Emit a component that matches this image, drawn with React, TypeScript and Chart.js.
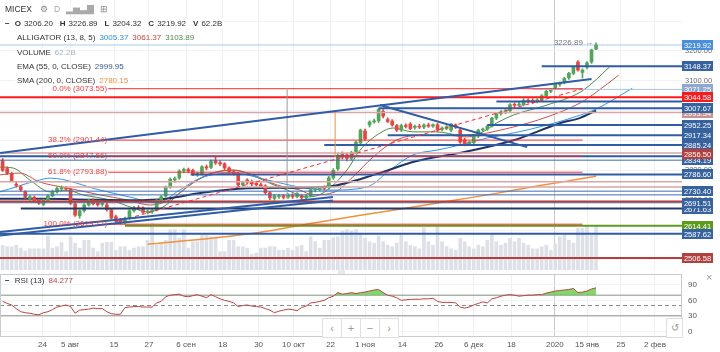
import React, { useEffect, useRef } from "react";
import { Chart, registerables } from "chart.js";

Chart.register(...registerables);

const FONT = "'Liberation Sans', Arial, sans-serif";

// ---------------- data ----------------
// bar index of the first candle (bars are trading days, bar 0 = 24 июля 2019)
const FIRST_BAR = -9;

// [open, high, low, close]
const candles: number[][] = [
  [2834, 2840, 2796, 2800],
  [2806, 2812, 2786, 2790],
  [2790, 2794, 2762, 2766],
  [2752, 2760, 2744, 2750],
  [2745, 2750, 2730, 2735],
  [2728, 2732, 2706, 2710],
  [2705, 2716, 2700, 2712],
  [2710, 2714, 2692, 2696],
  [2700, 2704, 2686, 2690],
  [2686, 2704, 2682, 2700],
  [2700, 2718, 2696, 2715],
  [2715, 2734, 2712, 2730],
  [2728, 2745, 2724, 2740],
  [2738, 2748, 2734, 2742],
  [2742, 2746, 2732, 2738],
  [2736, 2740, 2685, 2690],
  [2688, 2692, 2646, 2650],
  [2648, 2668, 2640, 2665],
  [2665, 2688, 2660, 2684],
  [2684, 2704, 2680, 2700],
  [2700, 2706, 2684, 2688],
  [2690, 2696, 2680, 2685],
  [2686, 2692, 2680, 2687],
  [2685, 2690, 2664, 2668],
  [2668, 2672, 2636, 2640],
  [2645, 2650, 2626, 2630],
  [2635, 2640, 2620, 2624],
  [2625, 2644, 2621, 2640],
  [2640, 2668, 2636, 2665],
  [2665, 2680, 2660, 2675],
  [2675, 2682, 2668, 2672],
  [2674, 2678, 2656, 2660],
  [2660, 2668, 2654, 2662],
  [2662, 2670, 2656, 2665],
  [2668, 2704, 2664, 2700],
  [2700, 2716, 2694, 2712],
  [2714, 2748, 2710, 2744],
  [2744, 2775, 2740, 2770],
  [2768, 2778, 2760, 2772],
  [2775, 2802, 2770, 2798],
  [2798, 2808, 2792, 2803],
  [2803, 2808, 2792, 2798],
  [2800, 2804, 2782, 2787],
  [2785, 2794, 2780, 2790],
  [2787, 2816, 2784, 2812],
  [2812, 2818, 2802, 2808],
  [2810, 2835, 2806, 2830],
  [2833, 2846, 2820, 2825],
  [2826, 2832, 2816, 2822],
  [2822, 2826, 2802, 2808],
  [2808, 2812, 2790, 2795],
  [2795, 2800, 2784, 2790],
  [2790, 2794, 2746, 2752],
  [2752, 2764, 2748, 2758],
  [2768, 2772, 2754, 2760],
  [2760, 2768, 2748, 2755],
  [2757, 2762, 2748, 2752],
  [2752, 2758, 2742, 2748],
  [2748, 2752, 2720, 2725],
  [2725, 2730, 2702, 2708],
  [2706, 2720, 2700, 2715],
  [2712, 2720, 2706, 2714],
  [2715, 2720, 2704, 2710],
  [2710, 2722, 2706, 2718],
  [2716, 2722, 2706, 2712],
  [2712, 2726, 2708, 2722],
  [2715, 2720, 2702, 2708],
  [2708, 2720, 2704, 2715],
  [2715, 2740, 2712, 2735],
  [2735, 2742, 2728, 2738],
  [2738, 2746, 2732, 2742],
  [2742, 2748, 2734, 2740],
  [2742, 2780, 2738, 2775],
  [2775, 2806, 2770, 2800],
  [2805, 2856, 2800, 2850],
  [2855, 2862, 2838, 2845],
  [2852, 2858, 2832, 2840],
  [2840, 2864, 2834, 2860],
  [2860, 2898, 2855, 2895],
  [2892, 2938, 2886, 2935],
  [2932, 2938, 2900, 2905],
  [2952, 2966, 2945, 2962],
  [2962, 2972, 2958, 2966],
  [2966, 3007.67, 2960, 3004],
  [2998, 3004, 2976, 2982],
  [2970, 2976, 2960, 2964],
  [2965, 2970, 2948, 2952],
  [2950, 2954, 2930, 2935],
  [2935, 2955, 2930, 2950],
  [2950, 2956, 2942, 2947],
  [2955, 2960, 2936, 2940],
  [2944, 2952, 2938, 2948],
  [2948, 2954, 2940, 2945],
  [2945, 2956, 2940, 2952],
  [2952, 2958, 2944, 2948],
  [2948, 2956, 2944, 2953],
  [2953, 2958, 2930, 2935],
  [2938, 2946, 2932, 2942],
  [2940, 2950, 2936, 2946],
  [2935, 2958, 2930, 2955],
  [2952, 2956, 2940, 2945],
  [2935, 2940, 2890, 2895],
  [2902, 2908, 2882, 2888],
  [2890, 2898, 2885, 2895],
  [2893, 2918, 2889, 2915],
  [2915, 2938, 2910, 2935],
  [2935, 2942, 2930, 2938],
  [2938, 2952, 2934, 2948],
  [2948, 2978, 2945, 2975],
  [2975, 2994, 2970, 2990],
  [2990, 3000, 2985, 2995],
  [2995, 3004, 2990, 3000],
  [3000, 3024, 2996, 3020],
  [3020, 3026, 3012, 3018],
  [3018, 3028, 3014, 3022],
  [3020, 3040, 3016, 3035],
  [3035, 3040, 3026, 3030],
  [3035, 3040, 3024, 3028],
  [3030, 3040, 3026, 3036],
  [3035, 3054, 3030, 3050],
  [3050, 3068, 3046, 3065],
  [3065, 3073.55, 3060, 3071],
  [3075, 3092, 3070, 3088],
  [3088, 3096, 3082, 3092],
  [3095, 3112, 3090, 3108],
  [3110, 3128, 3105, 3125],
  [3125, 3148.37, 3120, 3145],
  [3163, 3168, 3132, 3136],
  [3128, 3140, 3109, 3136],
  [3146, 3164, 3140, 3160],
  [3163, 3206, 3158, 3203],
  [3206.2, 3226.89, 3204.32, 3219.92],
];

// volume, billions
const volumes: number[] = [
  35, 33, 33, 35, 31, 27, 30, 30, 30, 30,
  48, 31, 33, 39, 26, 47, 38, 31, 42, 42,
  31, 26, 38, 39, 39, 28, 33, 33, 28, 31,
  33, 33, 42, 66, 35, 38, 42, 57, 57, 45,
  57, 31, 40, 40, 49, 49, 47, 47, 26, 26,
  42, 42, 33, 33, 31, 22, 24, 31, 31, 33,
  33, 28, 28, 31, 28, 33, 35, 26, 47, 40,
  31, 42, 42, 46, 47, 55, 57, 55, 57, 52,
  45, 40, 38, 48, 40, 35, 33, 38, 50, 40,
  35, 33, 30, 60, 40, 35, 62, 40, 33, 30,
  28, 45, 40, 33, 30, 35, 33, 42, 50, 40,
  35, 38, 45, 40, 45, 38, 35, 30, 30, 33,
  35, 28, 37, 47, 49, 42, 38, 59, 59, 62,
  49, 62.2,
];

// RSI (13)
const rsiValues: number[] = [
  58, 54, 51, 44, 38, 36, 35, 33, 32, 36,
  38, 42, 47, 49, 51, 48, 35, 41, 42, 43,
  45, 44, 44, 38, 34, 33, 33, 46, 47, 48,
  48, 47, 47, 47, 55, 58, 67, 70, 71, 72,
  68, 67, 69, 71, 68, 65, 71, 67, 63, 60,
  58, 55, 48, 50, 51, 49, 48, 47, 44, 41,
  36, 39, 41, 43, 42, 40, 46, 49, 55, 56,
  58, 60, 65, 68, 75, 72, 73, 75, 73, 75,
  76, 78, 80, 81, 75, 70, 68, 65, 60, 61,
  62, 62, 62, 63, 63, 64, 58, 56, 56, 56,
  55, 47, 45, 47, 51, 54, 57, 55, 63, 65,
  68, 70, 71, 70, 68, 69, 70, 70, 71, 71,
  74, 76, 78, 79, 80, 81, 83, 75, 76, 78,
  82, 84.277,
];

// date axis (bar positions of the labels)
const dateTickBars = [-0.2, 5.9, 15.6, 23.3, 31.5, 39.6, 47.5, 55.2, 63.4, 71, 79.2, 87.3, 95, 103.3, 112.9, 120, 127.5, 135];
const dateTickLabels = ["24", "5 авг", "15", "27", "6 сен", "18", "30", "10 окт", "22", "1 ноя", "14", "26", "6 дек", "18", "2020", "15 янв", "25", "2 фев"];

const priceGrid = [2500, 2600, 2700, 2800, 2900, 3000, 3100, 3200, 3300];
const priceAxisLabels = [2500, 2600, 2700, 2800, 2900, 3000, 3100, 3200];
const rsiGrid = [0, 30, 60, 90];

// Alligator (13, 8, 5)
const jawBars = [-9.6, -0.8, 1.5, 12.5, 19.8, 25, 30.1, 34.6, 41.9, 49.4, 56.6, 63.3, 71.4, 76.5, 81.6, 86.9, 92, 97.9, 103.7, 111.2, 118.5, 122, 130];
const jawValues = [2728, 2768, 2774, 2734, 2708, 2691, 2734, 2774, 2791, 2768, 2744, 2734, 2744, 2801, 2852, 2868, 2885, 2908, 2925, 2952, 2985, 3005.37, 3075];
const teethBars = [-9.6, -5.2, -0.8, 5.2, 12.5, 18.5, 23.5, 27.9, 31.7, 36.1, 41.9, 46.3, 51.6, 56.6, 59.5, 64.4, 68.3, 72.8, 78, 83.1, 89.1, 93.5, 97.9, 103.7, 111.2, 118.5, 122, 127];
const teethValues = [2785, 2791, 2761, 2741, 2718, 2701, 2684, 2701, 2744, 2785, 2801, 2785, 2751, 2734, 2718, 2728, 2778, 2845, 2902, 2918, 2918, 2912, 2925, 2945, 2979, 3026, 3061.37, 3119];
const lipsBars = [-9.6, -6.7, -3, 1.5, 5.2, 8.7, 14.7, 19.8, 22.9, 26.4, 30.1, 33, 37.4, 41.9, 44.9, 49.4, 53.8, 58.2, 61.7, 67, 69.9, 74.3, 77.2, 81.6, 86.9, 92, 96.4, 100.1, 103.7, 111.2, 118.5, 122, 125];
const lipsValues = [2811, 2808, 2768, 2728, 2734, 2718, 2701, 2674, 2661, 2677, 2724, 2758, 2791, 2801, 2791, 2761, 2734, 2711, 2724, 2801, 2868, 2925, 2942, 2929, 2929, 2918, 2925, 2959, 2985, 3019, 3062, 3103.89, 3147];

// EMA (55) and SMA (200)
const emaBars = [-9.6, 0, 10, 20, 27, 35, 45, 55, 63, 74, 82, 93, 104, 114, 118.5, 122];
const emaValues = [2705, 2705, 2702, 2700, 2705, 2725, 2740, 2742, 2746, 2790, 2830, 2862, 2902, 2958, 2976, 2999.95];
const smaBars = [23, 38, 50, 60, 70, 80, 90, 100, 110, 118, 122];
const smaValues = [2553, 2574, 2598, 2625, 2650, 2673, 2698, 2723, 2750, 2770, 2780.15];

// Fibonacci retracement
const fibLevels = [0, 38.2, 50, 61.8, 100];
const fibPrices = [3073.55, 2901.44, 2847.66, 2793.88, 2619.77];
const fibFromBar = 14.3;
const fibToBar = 119;

// horizontal lines: [price, first bar (null = from the left edge), kind]
const hLines: [number, number | null, string][] = [
  [3219.92, null, "last"],
  [3148.37, 110, "blue"],
  [3071.25, 108, "light"],
  [3044.58, null, "red"],
  [3030.5, 100, "blue"],
  [3007.67, 74, "blue"],
  [2993.54, null, "rose"],
  [2952.25, 98, "blue"],
  [2917.34, 76, "blue"],
  [2885.24, 62, "blue"],
  [2858.5, null, "rose"],
  [2847.0, null, "blue"],
  [2834.19, null, "blueThin"],
  [2786.6, 32.5, "blue"],
  [2762, null, "rose"],
  [2744, 4.3, "rose"],
  [2730.4, null, "blueThin"],
  [2718, null, "blueThin"],
  [2696, null, "maroon"],
  [2691.51, null, "blueThin"],
  [2672, -5, "navy"],
  [2614.41, 18, "green"],
  [2587.62, null, "blue"],
  [2506.58, null, "maroon"],
];

// labels on the price axis, in drawing order: [price, kind]
const axisLabels: [number, string][] = [
  [3219.92, "last"],
  [3148.37, "blue"],
  [3071.25, "steel"],
  [3044.58, "red"],
  [2993.54, "rose"],
  [3007.67, "blue"],
  [2952.25, "blue"],
  [2917.34, "blue"],
  [2885.24, "blue"],
  [2834.19, "blue"],
  [2856.5, "maroon"],
  [2786.6, "blue"],
  [2730.4, "blue"],
  [2671.63, "blue"],
  [2691.51, "blue"],
  [2614.41, "green"],
  [2587.62, "blue"],
  [2506.58, "maroon"],
];

// trend lines: [bar1, price1, bar2, price2]
const trendLines: number[][] = [
  [-9.58, 2858, 121, 3106],
  [74.3, 3019, 106.8, 2878],
  [-9.58, 2594, 63.9, 2711],
  [-9.58, 2582, 63.9, 2699],
];

// vertical marks: [bar, price from, price to, kind]
const vLines: [number, number, number, string][] = [
  [53.8, 2705, 3076, "grey"],
  [64.4, 2845, 2998, "orange"],
];

// ---------------- view settings ----------------
const X_MIN = -9.58;
const X_MAX = 140.97;
const PRICE_MIN = 2466.4;
const PRICE_MAX = 3370.6;
const VOL_MAX = 382;
const RSI_MIN = -11;
const RSI_MAX = 111;

const LINE_STYLE: Record<string, { color: string; width: number }> = {
  last: { color: "#a6cbee", width: 1 },
  blue: { color: "#2f5ca4", width: 2 },
  blueThin: { color: "#3d6db3", width: 1 },
  light: { color: "#a9c3e6", width: 1 },
  red: { color: "#ff1a1a", width: 2 },
  rose: { color: "#d9a6a6", width: 1.5 },
  maroon: { color: "#b3403d", width: 2 },
  navy: { color: "#22386b", width: 2 },
  green: { color: "#5d9b1c", width: 2 },
  grey: { color: "#9a9a9a", width: 1 },
  orange: { color: "#f0913f", width: 1 },
};
const BOX_COLOR: Record<string, string> = {
  last: "#4a8fdb",
  blue: "#36629f",
  steel: "#8ea8cf",
  red: "#f31d1d",
  rose: "#c69494",
  maroon: "#b3403d",
  green: "#5d9b1c",
};
const UP = "#53a55b";
const DOWN = "#e4473f";

function line(data: any[], color: string, width: number, order: number, extra: any = {}) {
  return {
    type: "line",
    data,
    borderColor: color,
    borderWidth: width,
    pointRadius: 0,
    pointHoverRadius: 0,
    fill: false,
    tension: 0,
    order,
    yAxisID: "y",
    ...extra,
  };
}
const pts = (xs: number[], ys: number[]) => xs.map((x, k) => ({ x, y: ys[k] }));

function mainConfig(): any {
  const ds: any[] = [];
  ds.push({
    type: "bar",
    yAxisID: "yVol",
    data: volumes.map((v, k) => ({ x: FIRST_BAR + k, y: v })),
    backgroundColor: "#dde1e7",
    barThickness: 3,
    grouped: false,
    order: 100,
  });
  ds.push(line(pts(smaBars, smaValues), "#f0913f", 1.5, 60, { cubicInterpolationMode: "monotone" }));
  ds.push(line(pts(emaBars, emaValues), "#1f3566", 2, 60, { cubicInterpolationMode: "monotone" }));
  ds.push(line(pts(jawBars, jawValues), "#2a98ee", 1, 60, { cubicInterpolationMode: "monotone" }));
  ds.push(line(pts(teethBars, teethValues), "#c4544c", 1, 60, { cubicInterpolationMode: "monotone" }));
  ds.push(line(pts(lipsBars, lipsValues), "#4d8a45", 1, 60, { cubicInterpolationMode: "monotone" }));

  const colors = candles.map((c) => (c[3] >= c[0] ? UP : DOWN));
  ds.push({
    type: "bar",
    yAxisID: "y",
    data: candles.map((c, k) => ({ x: FIRST_BAR + k, y: [c[2], c[1]] })),
    backgroundColor: colors,
    barThickness: 1,
    grouped: false,
    order: 40,
  });
  ds.push({
    type: "bar",
    yAxisID: "y",
    data: candles.map((c, k) => ({ x: FIRST_BAR + k, y: [c[0], c[3]] })),
    backgroundColor: colors,
    barThickness: 3,
    minBarLength: 1,
    grouped: false,
    order: 39,
  });

  hLines.forEach(([p, from, kind]) => {
    const s = LINE_STYLE[kind];
    ds.push(line([{ x: from === null ? X_MIN : from, y: p }, { x: X_MAX, y: p }], s.color, s.width, kind === "last" ? 70 : 20));
  });
  fibPrices.forEach((p) => {
    ds.push(line([{ x: fibFromBar, y: p }, { x: fibToBar, y: p }], "#ff2b2b", 1, 19));
  });
  ds.push(line([{ x: fibFromBar, y: fibPrices[4] }, { x: fibToBar, y: fibPrices[0] }], "#ff2b2b", 1, 19, { borderDash: [4, 3] }));
  trendLines.forEach((t) => {
    ds.push(line([{ x: t[0], y: t[1] }, { x: t[2], y: t[3] }], "#2f5ca4", 2, 15));
  });
  vLines.forEach(([b, p1, p2, kind]) => {
    const s = LINE_STYLE[kind];
    ds.push(line([{ x: b, y: p1 }, { x: b, y: p2 }], s.color, s.width, 16));
  });

  const decor = {
    id: "mainDecor",
    afterDatasetsDraw(chart: any) {
      const { ctx, scales } = chart;
      const x = scales.x;
      const y = scales.y;
      ctx.save();
      ctx.font = `8px ${FONT}`;
      ctx.textBaseline = "middle";
      ctx.textAlign = "right";
      ctx.fillStyle = "#f23d3d";
      fibLevels.forEach((lv, k) => {
        ctx.fillText(`${lv.toFixed(1)}% (${fibPrices[k].toFixed(2)})`, x.getPixelForValue(fibFromBar) - 1, y.getPixelForValue(fibPrices[k]));
      });
      const last = candles[candles.length - 1];
      ctx.fillStyle = "#777";
      ctx.fillText(`${last[1].toFixed(2)} →`, x.getPixelForValue(FIRST_BAR + candles.length - 1) - 3, y.getPixelForValue(last[1]));
      ctx.restore();
    },
    afterDraw(chart: any) {
      const { ctx, chartArea, scales } = chart;
      const y = scales.y;
      ctx.save();
      ctx.font = `7.5px ${FONT}`;
      ctx.textBaseline = "middle";
      ctx.textAlign = "left";
      ctx.fillStyle = "#6b6b6b";
      priceAxisLabels.forEach((p) => ctx.fillText(p.toFixed(2), chartArea.right + 3, y.getPixelForValue(p)));
      ctx.textAlign = "center";
      axisLabels.forEach(([p, kind]) => {
        const py = Math.round(y.getPixelForValue(p));
        ctx.fillStyle = BOX_COLOR[kind];
        ctx.fillRect(chartArea.right, py - 5, 31, 10);
        ctx.fillStyle = "#fff";
        ctx.fillText(p.toFixed(2), chartArea.right + 15.5, py + 0.5);
      });
      ctx.restore();
    },
  };

  return {
    type: "line",
    data: { datasets: ds },
    plugins: [decor],
    options: {
      responsive: false,
      animation: false,
      devicePixelRatio: 1,
      layout: { padding: 0 },
      plugins: { legend: { display: false }, tooltip: { enabled: false } },
      events: [],
      scales: {
        x: {
          type: "linear",
          min: X_MIN,
          max: X_MAX,
          offset: false,
          afterBuildTicks: (s: any) => {
            s.ticks = dateTickBars.map((v) => ({ value: v }));
          },
          afterFit: (s: any) => {
            s.height = 0;
          },
          ticks: { display: false },
          grid: {
            offset: false,
            drawTicks: false,
            color: (c: any) => (dateTickLabels[c.index] === "2020" ? "#c6cad1" : "#eef0f3"),
          },
          border: { display: false },
        },
        y: {
          type: "linear",
          position: "right",
          min: PRICE_MIN,
          max: PRICE_MAX,
          afterBuildTicks: (s: any) => {
            s.ticks = priceGrid.map((v) => ({ value: v }));
          },
          afterFit: (s: any) => {
            s.width = 38;
          },
          ticks: { display: false },
          grid: { drawTicks: false, color: "#f0f2f5" },
          border: { display: false },
        },
        yVol: {
          type: "linear",
          display: false,
          min: 0,
          max: VOL_MAX,
        },
      },
    },
  };
}

function rsiConfig(): any {
  const ds: any[] = [];
  ds.push({
    type: "line",
    data: rsiValues.map((v, k) => ({ x: FIRST_BAR + k, y: v })),
    borderColor: "#b8453f",
    borderWidth: 1,
    pointRadius: 0,
    tension: 0,
    order: 1,
    fill: { target: { value: 70 }, above: "rgba(96, 206, 72, 0.8)", below: "rgba(0,0,0,0)" },
  });
  [70, 30].forEach((lv) => {
    ds.push({ type: "line", data: [{ x: X_MIN, y: lv }, { x: X_MAX, y: lv }], borderColor: "#8c8c8c", borderWidth: 1, pointRadius: 0, fill: false, order: 5 });
  });
  ds.push({ type: "line", data: [{ x: X_MIN, y: 50 }, { x: X_MAX, y: 50 }], borderColor: "#8c8c8c", borderWidth: 1, borderDash: [4, 3], pointRadius: 0, fill: false, order: 5 });

  const decor = {
    id: "rsiDecor",
    afterDraw(chart: any) {
      const { ctx, chartArea: a, scales } = chart;
      ctx.save();
      ctx.strokeStyle = "#c7ccd3";
      ctx.lineWidth = 1;
      ctx.strokeRect(a.left + 0.5, a.top + 0.5, a.right - a.left - 1, a.bottom - a.top - 1);
      ctx.font = `8px ${FONT}`;
      ctx.fillStyle = "#555";
      ctx.textBaseline = "middle";
      ctx.textAlign = "left";
      rsiGrid.forEach((v) => ctx.fillText(String(v), a.right + 6, scales.y.getPixelForValue(v)));
      ctx.restore();
    },
  };

  return {
    type: "line",
    data: { datasets: ds },
    plugins: [decor],
    options: {
      responsive: false,
      animation: false,
      devicePixelRatio: 1,
      layout: { padding: { top: 4, left: 0, right: 0, bottom: 0 } },
      plugins: { legend: { display: false }, tooltip: { enabled: false } },
      events: [],
      scales: {
        x: {
          type: "linear",
          min: X_MIN,
          max: X_MAX,
          offset: false,
          afterBuildTicks: (s: any) => {
            s.ticks = dateTickBars.map((v) => ({ value: v }));
          },
          afterFit: (s: any) => {
            s.height = 15;
          },
          ticks: {
            autoSkip: false,
            maxRotation: 0,
            padding: 3,
            color: "#555",
            font: { size: 8, family: FONT },
            callback: (_v: any, i: number) => dateTickLabels[i],
          },
          grid: {
            offset: false,
            drawTicks: false,
            color: (c: any) => (dateTickLabels[c.index] === "2020" ? "#c6cad1" : "#eef0f3"),
          },
          border: { display: false },
        },
        y: {
          type: "linear",
          position: "right",
          min: RSI_MIN,
          max: RSI_MAX,
          afterBuildTicks: (s: any) => {
            s.ticks = rsiGrid.map((v) => ({ value: v }));
          },
          afterFit: (s: any) => {
            s.width = 38;
          },
          ticks: { display: false },
          grid: { drawTicks: false, color: "#f0f2f5" },
          border: { display: false },
        },
      },
    },
  };
}

const rowStyle = (top: number, left: number): React.CSSProperties => ({
  position: "absolute",
  top,
  left,
  fontSize: 8,
  lineHeight: "10px",
  whiteSpace: "nowrap",
  background: "rgba(255,255,255,0.85)",
  padding: "0 2px",
  color: "#333",
});

export default function App() {
  const mainRef = useRef<HTMLCanvasElement>(null);
  const rsiRef = useRef<HTMLCanvasElement>(null);

  useEffect(() => {
    const main = new Chart(mainRef.current as HTMLCanvasElement, mainConfig());
    const rsi = new Chart(rsiRef.current as HTMLCanvasElement, rsiConfig());
    return () => {
      main.destroy();
      rsi.destroy();
    };
  }, []);

  const last = candles[candles.length - 1];
  const b = { fontWeight: 700, marginRight: 3 } as React.CSSProperties;
  const v = { marginRight: 7 } as React.CSSProperties;

  return (
    <div style={{ position: "fixed", left: 0, top: 0, width: 720, height: 352, background: "#fff", overflow: "hidden", fontFamily: FONT }}>
      <canvas ref={mainRef} width={720} height={270} style={{ position: "absolute", left: 0, top: 0, width: 720, height: 270 }} />
      <canvas ref={rsiRef} width={720} height={82} style={{ position: "absolute", left: 0, top: 270, width: 720, height: 82 }} />

      <div style={{ ...rowStyle(4, 3), fontSize: 8.5 }}>
        <span style={{ marginRight: 8 }}>MICEX</span>
        <span style={{ color: "#888", marginRight: 6 }}>⚙</span>
        <span style={{ color: "#aaa", marginRight: 6 }}>D</span>
        <span style={{ color: "#aaa", marginRight: 6 }}>▂▅▃▇</span>
        <span style={{ color: "#888" }}>⊞</span>
      </div>
      <div style={rowStyle(19, 3)}>
        <span style={{ fontWeight: 700, marginRight: 5 }}>−</span>
        <span style={b}>O</span><span style={v}>{last[0].toFixed(2)}</span>
        <span style={b}>H</span><span style={v}>{last[1].toFixed(2)}</span>
        <span style={b}>L</span><span style={v}>{last[2].toFixed(2)}</span>
        <span style={b}>C</span><span style={v}>{last[3].toFixed(2)}</span>
        <span style={b}>V</span><span>{volumes[volumes.length - 1].toFixed(1)}B</span>
      </div>
      <div style={rowStyle(33, 15)}>
        <span style={{ marginRight: 4 }}>ALLIGATOR (13, 8, 5)</span>
        <span style={{ color: "#2a8fd8", marginRight: 4 }}>{jawValues[jawBars.indexOf(122)].toFixed(2)}</span>
        <span style={{ color: "#c4453b", marginRight: 4 }}>{teethValues[teethBars.indexOf(122)].toFixed(2)}</span>
        <span style={{ color: "#4d8a45" }}>{lipsValues[lipsBars.indexOf(122)].toFixed(2)}</span>
      </div>
      <div style={rowStyle(48, 15)}>
        <span style={{ marginRight: 4 }}>VOLUME</span>
        <span style={{ color: "#9fb0c2" }}>{volumes[volumes.length - 1].toFixed(1)}B</span>
      </div>
      <div style={rowStyle(62, 15)}>
        <span style={{ marginRight: 4 }}>EMA (55, 0, CLOSE)</span>
        <span style={{ color: "#36588e" }}>{emaValues[emaValues.length - 1].toFixed(2)}</span>
      </div>
      <div style={rowStyle(76, 15)}>
        <span style={{ marginRight: 4 }}>SMA (200, 0, CLOSE)</span>
        <span style={{ color: "#f08c3c" }}>{smaValues[smaValues.length - 1].toFixed(2)}</span>
      </div>

      <div style={{ ...rowStyle(276, 3), background: "transparent" }}>
        <span style={{ fontWeight: 700, marginRight: 5 }}>−</span>
        <span style={{ marginRight: 4 }}>RSI (13)</span>
        <span style={{ color: "#b8453f" }}>{rsiValues[rsiValues.length - 1].toFixed(3)}</span>
      </div>

      <div style={{ position: "absolute", left: 338, top: 270, width: 7, height: 4, background: "#e6e9ed" }} />
      <div style={{ position: "absolute", left: 706, top: 271, fontSize: 11, color: "#999" }}>×</div>
      <div style={{ position: "absolute", left: 322, top: 318, height: 18, display: "flex", border: "1px solid #dcdfe4", background: "#fff" }}>
        {["‹", "+", "−", "›"].map((t, k) => (
          <div key={k} style={{ width: 18, height: 18, lineHeight: "18px", textAlign: "center", fontSize: 11, color: "#999", borderLeft: k ? "1px solid #dcdfe4" : "none" }}>{t}</div>
        ))}
      </div>
      <div style={{ position: "absolute", left: 666, top: 318, width: 15, height: 18, lineHeight: "18px", textAlign: "center", fontSize: 10, color: "#999", border: "1px solid #dcdfe4", background: "#fff" }}>↺</div>
    </div>
  );
}
